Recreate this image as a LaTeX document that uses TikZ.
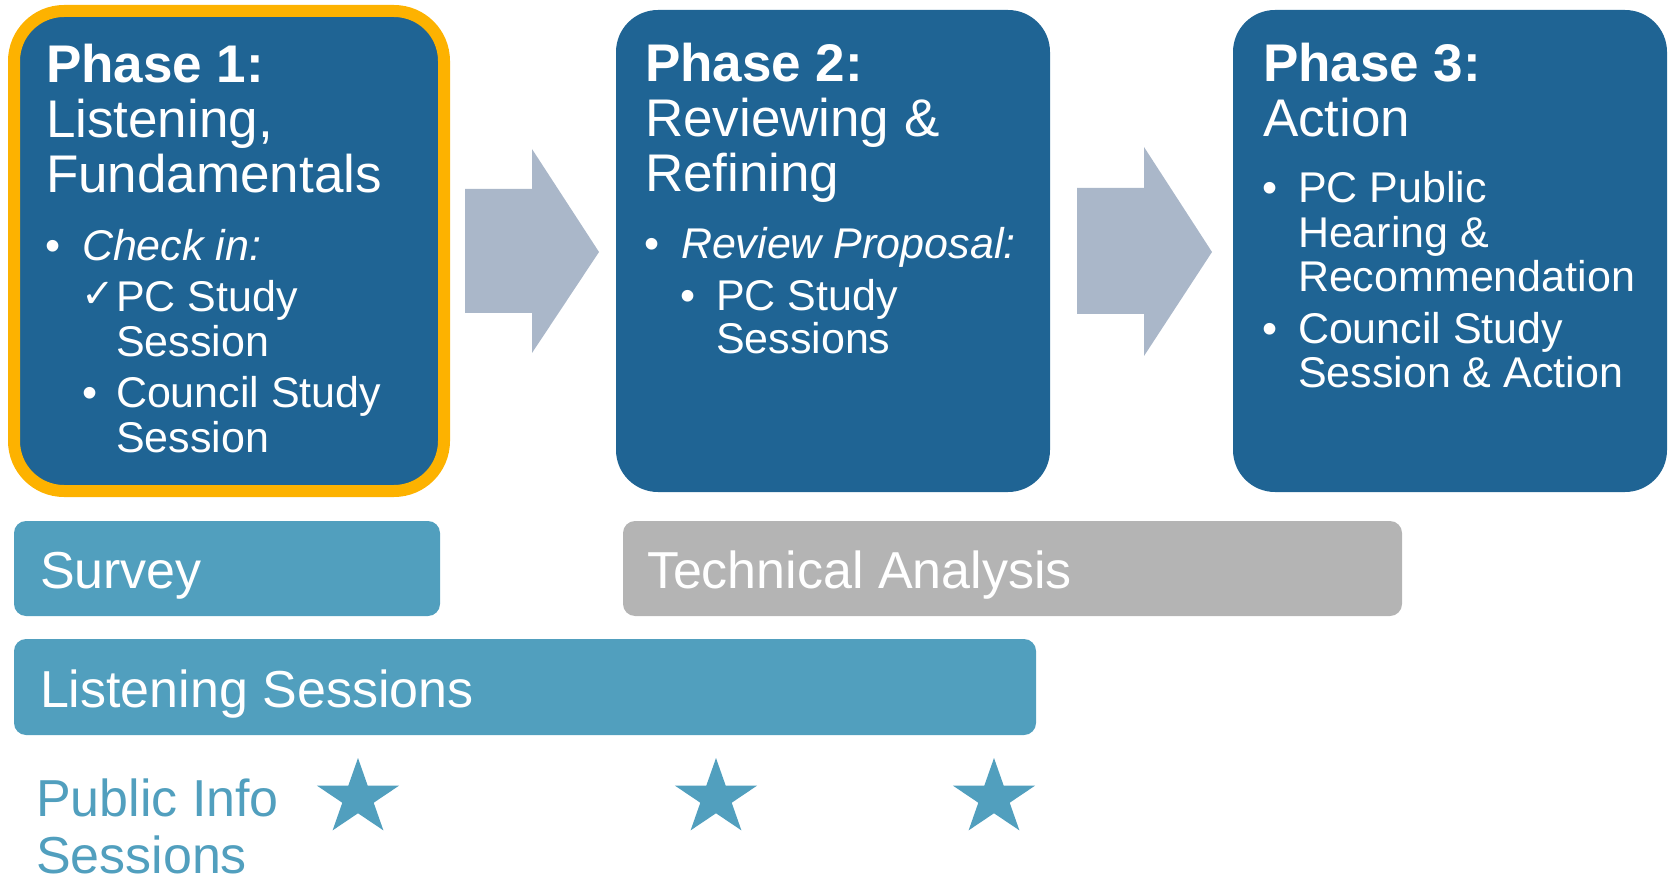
\documentclass[tikz,border=0pt]{standalone}
\usepackage{fontspec}
\setmainfont{Liberation Sans}
\newfontfamily\dejavu{DejaVu Sans}
\usetikzlibrary{shapes.geometric}
\definecolor{boxblue}{RGB}{31,100,148}
\definecolor{hiorange}{RGB}{253,178,0}
\definecolor{arrowgray}{RGB}{170,183,201}
\definecolor{barblue}{RGB}{81,159,190}
\definecolor{bargray}{RGB}{180,180,180}
\tikzset{
  phasebox/.style={fill=boxblue, draw=none, rounded corners=42pt, anchor=north west, inner sep=0pt, outer sep=0pt},
  barbox/.style={draw=none, rounded corners=12pt, anchor=north west, inner sep=0pt, outer sep=0pt},
  txt/.style={anchor=base west, inner sep=0pt, outer sep=0pt, text=white},
  ttl/.style={txt, font=\fontsize{53}{53}\selectfont},
  ttlb/.style={txt, font=\fontsize{53}{53}\selectfont\bfseries},
  itm/.style={txt, font=\fontsize{43}{43}\selectfont},
  itmi/.style={txt, font=\fontsize{43}{43}\selectfont\itshape},
  chk/.style={txt, font=\fontsize{40}{40}\selectfont\dejavu},
  bartxt/.style={txt, font=\fontsize{52}{52}\selectfont},
  pubtxt/.style={anchor=base west, inner sep=0pt, outer sep=0pt, text=barblue, font=\fontsize{52}{52}\selectfont},
  starmark/.style={star, star points=5, star point ratio=2.618, minimum size=80pt, inner sep=0pt, outer sep=0pt, fill=barblue, draw=none, transform shape},
  blockarrow/.style={fill=arrowgray, draw=none}
}
\begin{document}
\begin{tikzpicture}[x=1pt,y=-1pt]
\useasboundingbox (0,0) rectangle (1671,885);

% Phase boxes
\node[phasebox, draw=hiorange, line width=12pt, rounded corners=50pt, minimum width=430pt, minimum height=480pt] (ph1) at (14,11) {};
\node[phasebox, minimum width=434pt, minimum height=482pt] (ph2) at (616,10) {};
\node[phasebox, minimum width=434pt, minimum height=482pt] (ph3) at (1233,10) {};

% Block arrows
\fill[blockarrow] (465,189) -- (532,189) -- (532,149) -- (599,252) -- (532,353) -- (532,313) -- (465,313) -- cycle;
\fill[blockarrow] (1077,188) -- (1144,188) -- (1144,147) -- (1212,252) -- (1144,356) -- (1144,314) -- (1077,314) -- cycle;

% Phase 1 text
\node[ttlb] (p1a) at (46,83) {Phase 1:};
\node[ttl]  (p1b) at (46,138) {Listening,};
\node[ttl]  (p1c) at (46,193) {Fundamentals};
\node[itm]  (p1d0) at (45,261) {•};
\node[itmi] (p1d) at (82,261) {Check in:};
\node[chk]  (p1e0) at (81,308) {✓};
\node[itm]  (p1e) at (116,312) {PC Study};
\node[itm]  (p1f) at (116,356) {Session};
\node[itm]  (p1g0) at (82,407) {•};
\node[itm]  (p1g) at (116,407) {Council Study};
\node[itm]  (p1h) at (116,452) {Session};

% Phase 2 text
\node[ttlb] (p2a) at (645,82) {Phase 2:};
\node[ttl]  (p2b) at (645,137) {Reviewing \&};
\node[ttl]  (p2c) at (645,192) {Refining};
\node[itm]  (p2d0) at (644,259) {•};
\node[itmi] (p2d) at (681,259) {Review Proposal:};
\node[itm]  (p2e0) at (680,311) {•};
\node[itm]  (p2e) at (716,311) {PC Study};
\node[itm]  (p2f) at (716,354) {Sessions};

% Phase 3 text
\node[ttlb] (p3a) at (1263,82) {Phase 3:};
\node[ttl]  (p3b) at (1263,137) {Action};
\node[itm]  (p3c0) at (1262,203) {•};
\node[itm]  (p3c) at (1298,203) {PC Public};
\node[itm]  (p3d) at (1298,248) {Hearing \&};
\node[itm]  (p3e) at (1298,292) {Recommendation};
\node[itm]  (p3f0) at (1262,344) {•};
\node[itm]  (p3f) at (1298,344) {Council Study};
\node[itm]  (p3g) at (1298,388) {Session \& Action};

% Bars
\node[barbox, fill=barblue, minimum width=426pt, minimum height=95pt] (survey) at (14,521) {};
\node[barbox, fill=bargray, minimum width=779pt, minimum height=95pt] (tech) at (623,521) {};
\node[barbox, fill=barblue, minimum width=1022pt, minimum height=96pt] (listen) at (14,639) {};
\node[bartxt] (surveyt) at (40,588) {Survey};
\node[bartxt] (techt) at (647,588) {Technical Analysis};
\node[bartxt] (listent) at (40,707) {Listening Sessions};

% Public info sessions
\node[pubtxt] (pub1) at (36,816) {Public Info};
\node[pubtxt] (pub2) at (36,873) {Sessions};
\begin{scope}[shift={(358,798)}, xscale=1.08]
  \node[starmark] (st1) at (0,0) {};
\end{scope}
\begin{scope}[shift={(716,798)}, xscale=1.08]
  \node[starmark] (st2) at (0,0) {};
\end{scope}
\begin{scope}[shift={(994,798)}, xscale=1.08]
  \node[starmark] (st3) at (0,0) {};
\end{scope}
\end{tikzpicture}
\end{document}
